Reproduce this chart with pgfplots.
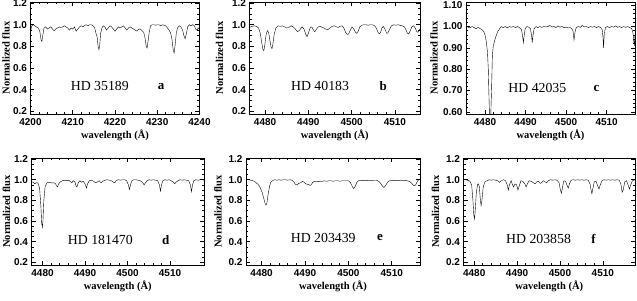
\documentclass[border=0pt]{standalone}
\usepackage{fontspec}
\setmainfont{Liberation Serif}
\setsansfont{Liberation Sans}
\usepackage{pgfplots}
\pgfplotsset{compat=1.18}
\pgfplotsset{
  spec/.style={
    scale only axis, anchor=south west,
    width=170pt, height=112pt,
    tick align=inside,
    axis line style={line width=0.8pt},
    major tick length=4pt, minor tick length=2pt,
    every tick/.style={line width=0.6pt, black},
    xtick={4480,4490,4500,4510},
    minor x tick num=4,
    minor y tick num=3,
    ymin=0.175, ymax=1.21,
    ytick={0.2,0.4,0.6,0.8,1.0,1.2},
    yticklabel style={/pgf/number format/fixed, /pgf/number format/fixed zerofill, /pgf/number format/precision=1},
    xticklabel style={yshift=-1pt, /pgf/number format/1000 sep={}},
    /pgf/number format/assume math mode=true,
    tick label style={font=\sffamily\bfseries\fontsize{10}{10}\selectfont},
    xlabel={wavelength (Å)},
    ylabel={Normalized flux},
    every axis x label/.style={at={(axis description cs:0.5,0)}, anchor=center, yshift=-21pt,
      font=\bfseries\fontsize{10.5}{10.5}\selectfont},
    every axis y label/.style={at={(axis description cs:0,0.5)}, anchor=center, rotate=90,
      font=\bfseries\fontsize{10.5}{10.5}\selectfont},
    cycle list={{black, no markers, line width=0.8pt, line join=round}},
  },
}
\tikzset{
  starlbl/.style={font=\fontsize{13.8}{14}\selectfont},
  taglbl/.style={font=\bfseries\fontsize{13}{14}\selectfont},
}
\begin{document}
\begin{tikzpicture}
\path[use as bounding box] (0,0) rectangle (637pt,300pt);
% ---------------- a ----------------
\begin{axis}[spec, at={(30.5pt,186pt)}, width=169pt, xmin=4200, xmax=4240, xtick={4200,4210,4220,4230,4240},
  ylabel style={yshift=24.5pt}]
\addplot coordinates {
(4200.0,0.93)(4200.3,0.99)(4200.7,1.00)(4201.0,0.99)(4201.4,0.98)(4201.8,0.97)(4202.2,0.94)(4202.5,0.86)(4202.7,0.845)(4202.9,0.90)
(4203.2,0.97)(4203.6,0.98)(4204.0,0.96)(4204.4,0.97)(4204.8,0.98)(4205.2,0.96)(4205.6,0.945)(4206.0,0.96)(4206.4,0.97)(4206.8,0.98)
(4207.2,0.975)(4207.6,0.98)(4208.0,0.99)(4208.4,0.98)(4208.8,0.97)(4209.2,0.95)(4209.6,0.97)(4210.0,0.96)(4210.4,0.98)(4210.8,0.94)
(4211.2,0.96)(4211.6,0.98)(4212.0,0.99)(4212.4,0.98)(4212.8,0.995)(4213.2,1.00)(4213.6,0.99)(4214.0,1.00)(4214.4,1.00)(4214.8,0.99)
(4215.2,0.97)(4215.5,0.92)(4215.8,0.88)(4216.0,0.80)(4216.2,0.77)(4216.4,0.82)(4216.6,0.92)(4216.9,0.97)(4217.2,0.99)(4217.6,0.98)
(4218.0,0.95)(4218.4,0.97)(4218.8,0.99)(4219.2,0.98)(4219.6,0.96)(4220.0,0.94)(4220.4,0.96)(4220.8,0.98)(4221.2,0.97)(4221.6,0.98)
(4222.0,0.99)(4222.4,0.97)(4222.8,0.95)(4223.2,0.97)(4223.6,0.98)(4224.0,0.97)(4224.4,0.96)(4224.8,0.95)(4225.2,0.94)(4225.6,0.96)
(4226.0,0.96)(4226.4,0.945)(4226.8,0.93)(4227.1,0.88)(4227.4,0.80)(4227.6,0.785)(4227.8,0.84)(4228.1,0.93)(4228.4,0.99)(4228.8,1.00)
(4229.2,1.00)(4229.6,0.995)(4230.0,1.00)(4230.4,1.00)(4230.8,0.99)(4231.2,1.00)(4231.6,0.995)(4232.0,0.99)(4232.4,0.97)(4232.8,0.95)
(4233.2,0.92)(4233.5,0.86)(4233.8,0.76)(4234.0,0.74)(4234.2,0.80)(4234.5,0.92)(4234.8,0.97)(4235.2,0.99)(4235.6,0.98)(4236.0,0.95)
(4236.3,0.90)(4236.6,0.87)(4236.9,0.92)(4237.2,0.98)(4237.6,1.00)(4238.0,0.99)(4238.4,1.00)(4238.8,0.99)(4239.1,0.96)(4239.4,0.95)
(4239.7,0.97)(4240.0,0.96)};
\node[starlbl] at (axis cs:4216.4,0.43) {HD 35189};
\node[taglbl] at (axis cs:4230.9,0.43) {a};
\end{axis}
% ---------------- b ----------------
\begin{axis}[spec, at={(249.5pt,186pt)}, width=170.5pt, xmin=4476.4, xmax=4515.8,
  ylabel style={yshift=30pt}]
\addplot coordinates {
(4476.4,0.975)(4477.0,0.985)(4477.5,0.99)(4478.0,0.985)(4478.5,0.97)(4478.9,0.92)(4479.2,0.84)(4479.5,0.77)(4479.7,0.76)(4479.9,0.80)
(4480.2,0.90)(4480.5,0.945)(4480.8,0.93)(4481.1,0.86)(4481.4,0.79)(4481.6,0.78)(4481.8,0.82)(4482.1,0.91)(4482.5,0.97)(4483.0,0.99)
(4483.5,0.985)(4484.0,0.99)(4484.5,0.98)(4485.0,0.97)(4485.5,0.975)(4486.0,0.99)(4486.5,0.98)(4487.0,0.96)(4487.5,0.935)(4488.0,0.95)
(4488.5,0.98)(4489.0,0.96)(4489.4,0.91)(4489.7,0.89)(4490.0,0.92)(4490.4,0.97)(4490.8,0.98)(4491.2,0.95)(4491.5,0.935)(4491.9,0.96)
(4492.3,0.98)(4492.8,0.985)(4493.2,0.975)(4493.6,0.97)(4494.0,0.96)(4494.5,0.955)(4495.0,0.97)(4495.5,0.985)(4496.0,0.99)(4496.5,0.98)
(4496.9,0.975)(4497.3,0.985)(4497.8,0.99)(4498.2,0.97)(4498.6,0.93)(4499.0,0.91)(4499.3,0.915)(4499.7,0.95)(4500.1,0.98)(4500.5,0.96)
(4500.9,0.93)(4501.2,0.92)(4501.5,0.94)(4501.9,0.98)(4502.3,0.995)(4502.8,1.00)(4503.3,1.00)(4503.8,0.995)(4504.3,1.00)(4504.8,1.00)
(4505.3,0.99)(4505.7,0.97)(4506.1,0.93)(4506.4,0.915)(4506.7,0.93)(4507.0,0.97)(4507.3,0.985)(4507.7,0.96)(4508.1,0.92)(4508.4,0.925)
(4508.8,0.96)(4509.2,0.99)(4509.7,1.00)(4510.2,0.995)(4510.7,1.00)(4511.2,0.995)(4511.7,0.99)(4512.2,0.98)(4512.6,0.95)(4512.9,0.92)
(4513.2,0.915)(4513.5,0.94)(4513.9,0.98)(4514.3,0.99)(4514.7,0.97)(4515.0,0.94)(4515.3,0.93)(4515.6,0.95)(4515.8,0.96)};
\node[starlbl] at (axis cs:4492.7,0.43) {HD 40183};
\node[taglbl] at (axis cs:4507.3,0.43) {b};
\end{axis}
% ---------------- c ----------------
\begin{axis}[spec, at={(466pt,186pt)}, width=169pt, xmin=4475.3, xmax=4517,
  ymin=0.59, ymax=1.115, ytick={0.6,0.7,0.8,0.9,1.0,1.1}, minor y tick num=4,
  yticklabel style={/pgf/number format/precision=2},
  ylabel style={yshift=32pt}]
\addplot coordinates {
(4475.3,1.00)(4475.8,0.997)(4476.3,0.994)(4476.8,1.00)(4477.3,0.995)(4477.8,0.99)(4478.3,0.996)(4478.8,0.99)(4479.3,0.985)(4479.7,0.975)
(4480.0,0.96)(4480.3,0.93)(4480.6,0.88)(4480.8,0.80)(4481.0,0.65)(4481.1,0.58)(4481.4,0.58)(4481.6,0.70)(4481.8,0.86)(4482.0,0.905)
(4482.3,0.93)(4482.7,0.955)(4483.1,0.975)(4483.6,0.99)(4484.0,1.00)(4484.5,0.995)(4485.0,1.00)(4485.5,0.994)(4486.0,1.00)(4486.5,0.997)
(4487.0,1.00)(4487.5,0.995)(4488.0,1.00)(4488.5,0.995)(4489.0,0.985)(4489.3,0.95)(4489.45,0.925)(4489.6,0.95)(4489.9,0.99)(4490.3,1.00)
(4490.8,0.997)(4491.2,0.99)(4491.5,0.955)(4491.65,0.925)(4491.8,0.955)(4492.1,0.99)(4492.6,1.00)(4493.0,0.995)(4493.5,1.00)(4494.0,0.996)
(4494.5,1.00)(4495.0,0.998)(4495.5,1.00)(4496.0,1.005)(4496.5,0.998)(4497.0,1.00)(4497.5,0.995)(4498.0,1.003)(4498.5,0.997)(4499.0,1.00)
(4499.5,0.995)(4500.0,0.998)(4500.5,0.993)(4501.0,0.995)(4501.4,0.99)(4501.7,0.98)(4501.95,0.937)(4502.2,0.975)(4502.5,0.995)(4503.0,1.00)
(4503.5,0.996)(4504.0,1.005)(4504.5,0.998)(4505.0,1.00)(4505.5,0.995)(4506.0,1.00)(4506.5,0.997)(4507.0,1.00)(4507.5,0.995)(4508.0,1.00)
(4508.5,0.995)(4508.9,0.985)(4509.1,0.95)(4509.25,0.90)(4509.4,0.96)(4509.7,0.995)(4510.2,1.00)(4510.7,0.995)(4511.2,1.00)(4511.7,0.997)
(4512.2,1.003)(4512.7,0.996)(4513.2,1.00)(4513.7,0.995)(4514.2,1.00)(4514.7,0.996)(4515.2,1.00)(4515.7,0.995)(4516.2,0.99)(4516.5,0.97)
(4516.7,0.93)(4516.85,0.91)(4517.0,0.96)};
\node[starlbl] at (axis cs:4492.9,0.71) {HD 42035};
\node[taglbl] at (axis cs:4507.5,0.71) {c};
\end{axis}
% ---------------- d ----------------
\begin{axis}[spec, at={(31.5pt,35pt)}, width=172.5pt, height=107pt, xmin=4477.4, xmax=4518,
  ylabel style={yshift=25pt}]
\addplot coordinates {
(4477.4,0.98)(4477.8,0.975)(4478.2,0.96)(4478.5,0.97)(4478.9,0.97)(4479.3,0.92)(4479.6,0.75)(4479.8,0.58)(4479.95,0.54)(4480.1,0.60)
(4480.3,0.80)(4480.6,0.93)(4481.0,0.97)(4481.5,0.975)(4482.0,0.97)(4482.5,0.97)(4483.0,0.965)(4483.3,0.94)(4483.5,0.93)(4483.8,0.96)
(4484.2,0.98)(4484.7,0.99)(4485.2,0.995)(4485.7,0.99)(4486.2,0.995)(4486.6,0.98)(4486.9,0.97)(4487.2,0.99)(4487.6,0.98)(4487.9,0.94)
(4488.1,0.93)(4488.4,0.97)(4488.8,0.99)(4489.2,0.975)(4489.6,0.985)(4490.1,0.95)(4490.35,0.92)(4490.6,0.96)(4491.0,0.99)(4491.5,0.995)
(4492.0,0.985)(4492.5,0.97)(4492.8,0.975)(4493.3,0.99)(4493.8,0.97)(4494.2,0.985)(4494.7,0.995)(4495.2,1.00)(4495.7,0.995)(4496.2,0.99)
(4496.7,0.975)(4497.0,0.97)(4497.3,0.99)(4497.8,1.00)(4498.3,0.995)(4498.8,1.00)(4499.3,1.00)(4499.8,0.99)(4500.2,0.95)(4500.45,0.905)
(4500.7,0.95)(4501.0,0.99)(4501.5,1.00)(4502.0,1.00)(4502.5,0.995)(4503.0,0.99)(4503.5,0.975)(4503.9,0.95)(4504.2,0.97)(4504.6,0.99)
(4505.1,1.00)(4505.6,0.995)(4506.1,1.00)(4506.6,0.995)(4507.1,0.99)(4507.5,0.95)(4507.75,0.89)(4508.0,0.95)(4508.3,0.99)(4508.8,1.00)
(4509.3,0.995)(4509.8,1.00)(4510.3,0.99)(4510.8,0.975)(4511.1,0.96)(4511.4,0.975)(4511.9,0.99)(4512.4,1.00)(4512.9,0.995)(4513.4,1.00)
(4513.9,0.995)(4514.4,0.99)(4514.8,0.95)(4515.05,0.885)(4515.3,0.95)(4515.6,0.99)(4516.1,1.00)(4516.6,0.995)(4517.1,1.00)(4517.6,1.00)
(4518.0,0.995)};
\node[starlbl] at (axis cs:4493.6,0.415) {HD 181470};
\node[taglbl] at (axis cs:4509,0.415) {d};
\end{axis}
% ---------------- e ----------------
\begin{axis}[spec, at={(246pt,35pt)}, width=174pt, height=107pt, xmin=4476.4, xmax=4516.5,
  ylabel style={yshift=28pt}]
\addplot coordinates {
(4476.4,1.00)(4477.0,1.00)(4477.5,0.995)(4478.0,0.99)(4478.5,0.98)(4478.9,0.965)(4479.3,0.95)(4479.7,0.92)(4480.1,0.88)(4480.5,0.82)
(4480.8,0.77)(4481.0,0.755)(4481.2,0.77)(4481.5,0.86)(4481.8,0.93)(4482.1,0.975)(4482.5,0.99)(4483.0,1.00)(4483.5,0.995)(4484.0,1.00)
(4484.5,0.995)(4485.0,1.00)(4485.5,1.00)(4486.0,0.995)(4486.5,1.00)(4487.0,0.995)(4487.4,0.98)(4487.8,0.955)(4488.2,0.95)(4488.6,0.965)
(4489.0,0.97)(4489.4,0.985)(4489.8,0.975)(4490.2,0.96)(4490.6,0.955)(4491.0,0.95)(4491.3,0.945)(4491.7,0.97)(4492.1,0.985)(4492.6,0.98)
(4493.0,0.985)(4493.5,0.98)(4494.0,0.985)(4494.5,0.99)(4495.0,0.985)(4495.5,0.99)(4496.0,0.99)(4496.5,0.985)(4497.0,0.99)(4497.5,0.99)
(4498.0,0.985)(4498.5,0.99)(4499.0,0.99)(4499.5,0.99)(4500.0,0.99)(4500.5,0.97)(4500.9,0.935)(4501.2,0.915)(4501.5,0.93)(4501.9,0.97)
(4502.3,0.99)(4502.8,0.995)(4503.3,0.99)(4503.8,0.995)(4504.3,0.99)(4504.8,0.995)(4505.3,0.99)(4505.8,0.995)(4506.5,0.995)(4507.0,0.985)
(4507.5,0.96)(4507.9,0.935)(4508.2,0.925)(4508.6,0.945)(4509.0,0.975)(4509.5,0.99)(4510.0,0.995)(4510.5,0.99)(4511.0,0.995)(4511.5,0.99)
(4512.0,0.995)(4512.5,0.99)(4513.0,0.995)(4513.5,0.99)(4514.0,0.985)(4514.5,0.97)(4514.9,0.95)(4515.2,0.94)(4515.5,0.95)(4515.9,0.985)
(4516.2,1.00)(4516.5,1.00)};
\node[starlbl] at (axis cs:4494.2,0.44) {HD 203439};
\node[taglbl] at (axis cs:4507.3,0.44) {e};
\end{axis}
% ---------------- f ----------------
\begin{axis}[spec, at={(463.5pt,35pt)}, width=171.5pt, height=107pt, xmin=4477.5, xmax=4517.5,
  ylabel style={yshift=28pt}]
\addplot coordinates {
(4477.5,1.00)(4478.0,1.00)(4478.5,0.995)(4479.0,0.985)(4479.4,0.95)(4479.7,0.80)(4479.9,0.66)(4480.05,0.62)(4480.2,0.68)(4480.5,0.88)
(4480.8,0.955)(4481.0,0.96)(4481.2,0.93)(4481.4,0.82)(4481.6,0.75)(4481.8,0.80)(4482.1,0.93)(4482.5,0.98)(4483.0,0.99)(4483.5,1.00)
(4484.0,0.995)(4484.5,1.00)(4485.0,0.995)(4485.5,0.99)(4485.9,0.975)(4486.3,0.99)(4486.8,1.00)(4487.3,0.99)(4487.7,0.95)(4487.95,0.90)
(4488.2,0.95)(4488.6,0.99)(4488.95,0.95)(4489.2,0.93)(4489.5,0.96)(4489.9,0.95)(4490.2,0.90)(4490.5,0.94)(4490.9,0.99)(4491.3,0.985)
(4491.8,0.96)(4492.1,0.93)(4492.4,0.96)(4492.8,0.99)(4493.3,0.985)(4493.8,0.97)(4494.2,0.96)(4494.6,0.98)(4495.0,0.985)(4495.4,0.965)
(4495.7,0.97)(4496.1,0.99)(4496.5,0.98)(4496.9,0.97)(4497.3,0.99)(4497.8,1.00)(4498.3,0.995)(4498.8,1.00)(4499.3,0.995)(4499.8,0.97)
(4500.1,0.90)(4500.35,0.87)(4500.6,0.93)(4500.9,0.99)(4501.3,0.985)(4501.7,0.94)(4501.95,0.92)(4502.2,0.96)(4502.6,0.995)(4503.1,1.00)
(4503.6,0.995)(4504.1,1.00)(4504.6,0.995)(4505.1,1.00)(4505.6,0.995)(4506.1,1.00)(4506.6,0.995)(4507.0,0.96)(4507.3,0.89)(4507.45,0.865)
(4507.7,0.92)(4508.0,0.98)(4508.4,0.985)(4508.8,0.94)(4509.1,0.91)(4509.4,0.95)(4509.8,0.99)(4510.3,1.00)(4510.8,0.995)(4511.3,1.00)
(4511.8,0.995)(4512.3,1.00)(4512.8,0.995)(4513.3,1.00)(4513.8,0.995)(4514.2,0.96)(4514.5,0.88)(4514.75,0.90)(4515.1,0.98)(4515.5,0.99)
(4515.9,0.95)(4516.2,0.91)(4516.5,0.95)(4516.9,0.99)(4517.5,1.00)};
\node[starlbl] at (axis cs:4495,0.43) {HD 203858};
\node[taglbl] at (axis cs:4507.8,0.43) {f};
\end{axis}
\end{tikzpicture}
\end{document}
